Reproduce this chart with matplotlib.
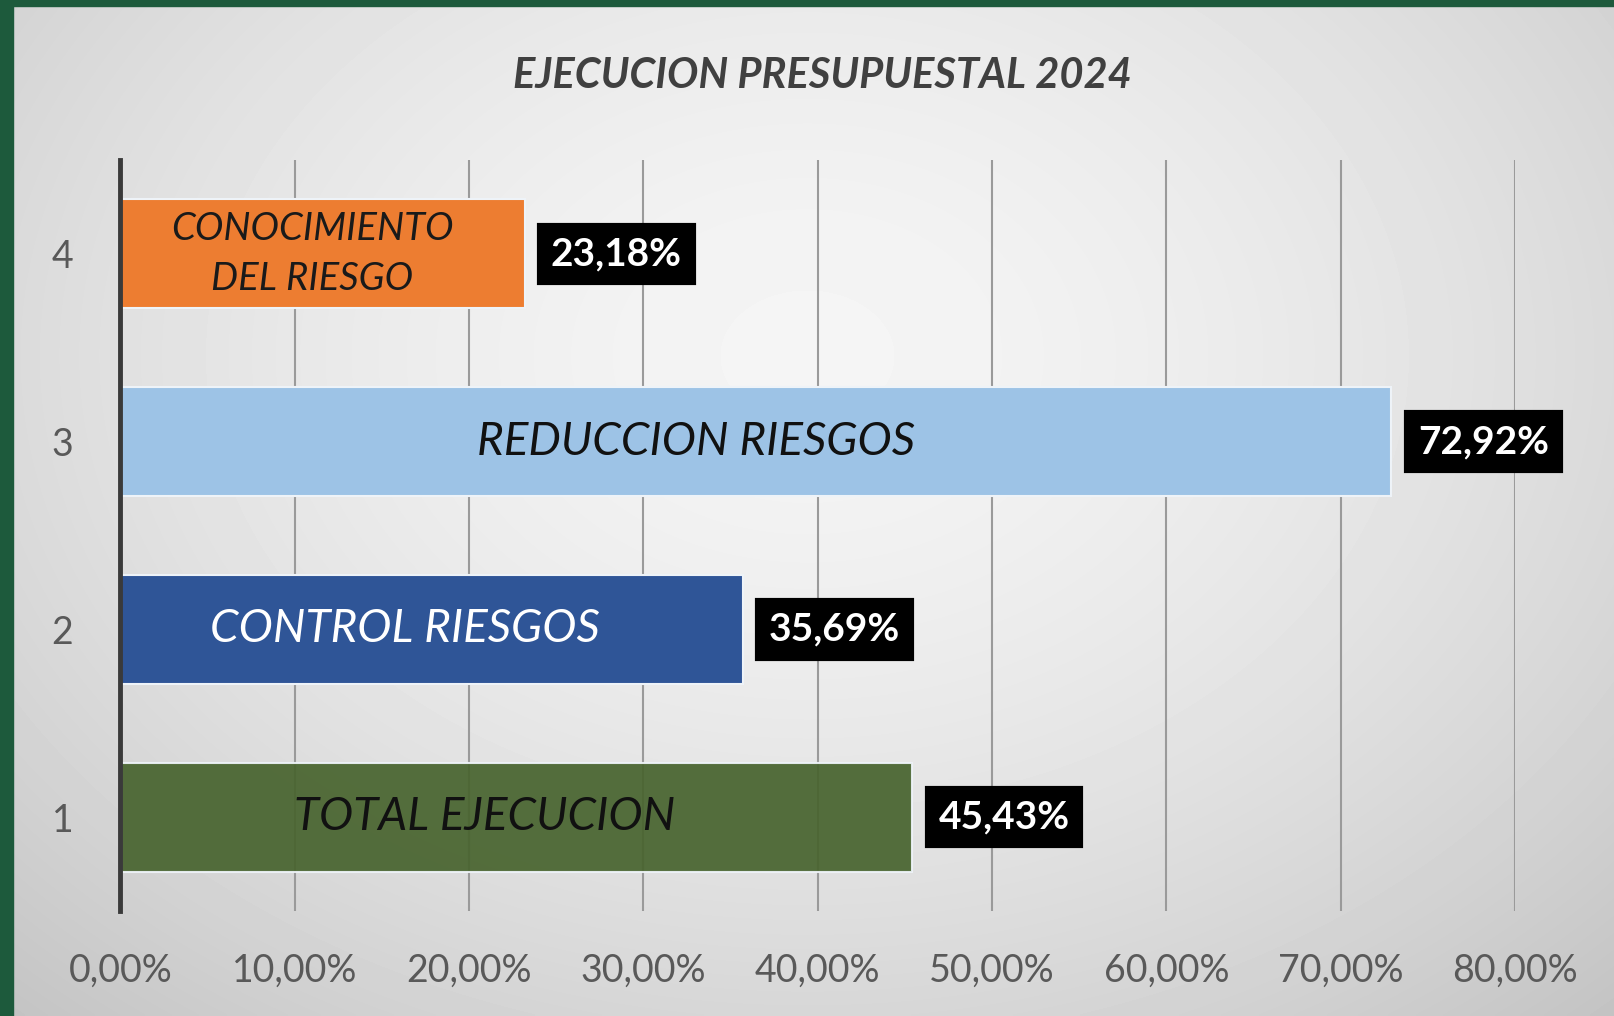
import numpy as np
import matplotlib
matplotlib.use('Agg')
import matplotlib.pyplot as plt
from matplotlib.patches import Rectangle
from matplotlib.ticker import FuncFormatter

plt.rcParams['font.family'] = ['Lato', 'DejaVu Sans']

positions = [1, 2, 3, 4]
values = [45.43, 35.69, 72.92, 23.18]
names = ['TOTAL EJECUCION', 'CONTROL RIESGOS', 'REDUCCION RIESGOS', 'CONOCIMIENTO\nDEL RIESGO']
bar_colors = ['#48642f', '#2f5597', '#9dc3e6', '#ed7d31']
name_colors = ['#111111', '#ffffff', '#111111', '#1a1a1a']
name_x = [20.9, 16.3, 33.0, 11.0]
name_sizes = [33, 33, 33, 27.5]
x_ticks = [0, 10, 20, 30, 40, 50, 60, 70, 80]


def pct(v, pos=None):
    return '{:.2f}%'.format(v).replace('.', ',')


fig = plt.figure(figsize=(16.15, 10.16), dpi=100)

# background: soft radial gray gradient with a dark green frame on top/left
bg = fig.add_axes([0, 0, 1, 1], zorder=-10)
yy, xx = np.mgrid[0:1:300j, 0:1:480j]
r = np.sqrt(((xx - 0.5) / 0.75) ** 2 + ((yy - 0.35) / 0.9) ** 2)
shade = np.clip(0.96 - 0.2 * r ** 1.6, 0.76, 0.96)
bg.imshow(shade, cmap='gray', vmin=0, vmax=1, aspect='auto',
          extent=[0, 1, 1, 0], interpolation='bilinear')
bg.set_xlim(0, 1)
bg.set_ylim(1, 0)
bg.axis('off')
fig.patches.append(Rectangle((0, 0), 13 / 1615, 1, transform=fig.transFigure,
                             color='#1d5a3c', zorder=5))
fig.patches.append(Rectangle((0, 1 - 6 / 1016), 1, 6 / 1016, transform=fig.transFigure,
                             color='#1d5a3c', zorder=5))

ax = fig.add_axes([0.0746, 0.1033, 0.8634, 0.7392])
ax.patch.set_alpha(0)

bars = ax.barh(positions, values, height=0.58, color=bar_colors,
               edgecolor='#eef3f8', linewidth=1.5, zorder=3)
bars[0].set_alpha(0.93)

for p, v, n, c, nx, fs in zip(positions, values, names, name_colors, name_x, name_sizes):
    ax.text(nx, p, n, ha='center', va='center', fontsize=fs, style='italic',
            color=c, zorder=4, linespacing=1.5)
    ax.annotate(pct(v), (v, p), xytext=(19, 0), textcoords='offset points',
                ha='left', va='center', fontsize=28, fontweight='bold', color='white',
                bbox=dict(boxstyle='square,pad=0.3', fc='black', ec='black', lw=3),
                zorder=5)

ax.set_xlim(0, 80)
ax.set_ylim(0.5, 4.5)
ax.set_xticks(x_ticks)
ax.xaxis.set_major_formatter(FuncFormatter(pct))
ax.set_yticks(positions)
ax.grid(axis='x', color='#9a9a9a', linewidth=1.5, zorder=1)
ax.tick_params(axis='x', length=0, pad=30, labelsize=27, labelcolor='#595959')
ax.tick_params(axis='y', length=0, pad=34, labelsize=27, labelcolor='#595959')
for s in ['top', 'right', 'bottom']:
    ax.spines[s].set_visible(False)
ax.spines['left'].set_color('#3a3a3a')
ax.spines['left'].set_linewidth(3.5)
ax.spines['left'].set_zorder(6)

fig.text(0.509, 0.925, 'EJECUCION PRESUPUESTAL 2024', ha='center', va='center',
         fontsize=30, fontweight='bold', style='italic', color='#404040')

fig.savefig('out.png', dpi=100)
